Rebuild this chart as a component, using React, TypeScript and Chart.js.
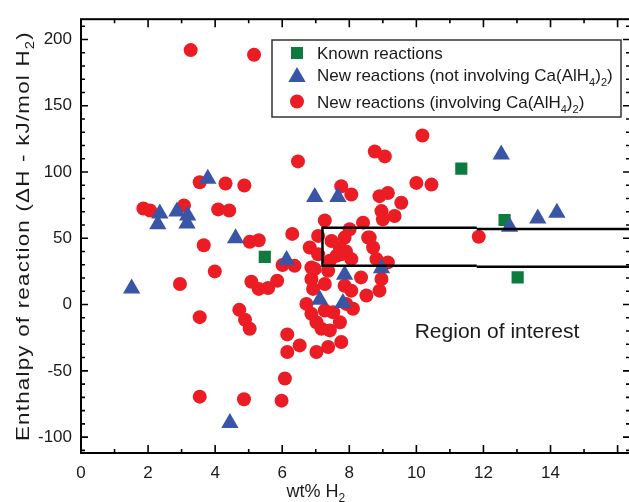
import React, { useEffect, useRef } from 'react';
import { Chart, registerables } from 'chart.js';

Chart.register(...registerables);

// ---------- data (wt% H2, enthalpy kJ/mol H2) ----------
const knownReactions: [number, number][] = [
  [5.48, 36], [11.34, 102.5], [12.63, 63.8], [13.02, 20.5],
];

const newNotInvolvingCa: [number, number][] = [
  [1.51, 12.2], [4.44, -89.3], [2.35, 68.7], [2.86, 70.2], [3.18, 67.2],
  [2.29, 60.5], [3.16, 61.2], [3.78, 95.0], [4.61, 50.0], [6.13, 33.7],
  [6.97, 81.2], [7.66, 81.2], [7.86, 22.4], [7.12, 3.7], [7.81, 1.2],
  [8.96, 27.4], [12.53, 113.2], [12.78, 58.7], [13.62, 65.0], [14.19, 69.2],
];

const newInvolvingCa: [number, number][] = [
  [3.27, 192], [5.16, 188.5], [3.54, 92.3], [4.31, 91.3], [4.87, 89.8],
  [1.86, 72.5], [2.06, 71], [3.07, 74.8], [4.09, 71.8], [4.42, 71],
  [3.66, 44.8], [5.03, 47.3], [5.3, 48.5], [6.3, 53.3], [6.01, 29.8],
  [3.99, 25], [2.95, 15.5], [5.08, 17.2], [5.3, 11.8], [5.58, 12.5],
  [5.85, 18], [4.72, -4], [4.89, -11.5], [5.03, -18.2], [3.54, -9.5],
  [6.15, -22.5], [6.15, -35.8], [6.08, -55.8], [3.54, -69.5], [4.86, -71.5],
  [5.98, -72.5], [6.47, 108], [8.76, 115.5], [9.06, 111.8], [10.18, 127.5],
  [10.0, 91.8], [10.45, 90.5], [7.76, 89.3], [8.06, 83], [8.9, 81.8],
  [9.15, 84.2], [9.55, 76.8], [8.96, 70.5], [9.35, 66.8], [9.0, 64.3],
  [8.41, 61.8], [8.01, 56.8], [8.56, 50.5], [7.86, 50.5], [8.71, 43],
  [7.27, 63.5], [7.07, 51.8], [6.82, 43], [7.47, 48], [7.72, 43],
  [8.06, 34.3], [8.81, 34.3], [9.15, 31.8], [7.42, 33], [6.87, 28],
  [6.37, 29.2], [11.86, 51.2], [6.97, 26.8], [6.87, 19.3], [7.37, 25.5],
  [7.27, 15.5], [6.92, 11.8], [7.86, 14.2], [8.06, 10.5], [8.35, 20.5],
  [6.72, 0.5], [6.87, -7], [7.02, -13.3], [7.27, -4.5], [7.52, -5.8],
  [7.91, 0.5], [8.11, -3.2], [7.72, -13.3], [7.17, -18.2], [7.42, -19.5],
  [7.76, -28.3], [7.37, -32], [7.02, -35.8], [6.52, -30.8], [8.51, 6.8],
  [8.9, 10.5], [8.96, 19.3], [7.62, 36.8], [7.9, 40], [8.61, 50.5],
  [7.07, 38], [7.76, 38],
];

const xTickValues = [0, 2, 4, 6, 8, 10, 12, 14];
const yTickValues = [-100, -50, 0, 50, 100, 150, 200];

// region of interest (x from, step x, y bounds left part, y bounds right part)
const roiXStart = 7.2;
const roiXStep = 11.8;
const roiLeftY: [number, number] = [29.3, 58];
const roiRightY: [number, number] = [28.5, 57];

const GREEN = '#0d7a3e';
const BLUE = '#3a55a5';
const RED = '#ec1c24';
const FONT = '"Liberation Sans", Arial, sans-serif';
const TEXT = '#1a1a1a';

type Seg = { t: string; sub?: boolean };

function segWidth(ctx: CanvasRenderingContext2D, segs: Seg[], size: number) {
  let w = 0;
  for (const s of segs) {
    ctx.font = `${s.sub ? Math.round(size * 0.65) : size}px ${FONT}`;
    w += ctx.measureText(s.t).width;
  }
  return w;
}

function drawSegs(ctx: CanvasRenderingContext2D, segs: Seg[], x: number, y: number, size: number) {
  let cx = x;
  ctx.textAlign = 'left';
  ctx.textBaseline = 'alphabetic';
  for (const s of segs) {
    const fs = s.sub ? Math.round(size * 0.65) : size;
    ctx.font = `${fs}px ${FONT}`;
    ctx.fillText(s.t, cx, s.sub ? y + size * 0.3 : y);
    cx += ctx.measureText(s.t).width;
  }
}

const yTitle: Seg[] = [{ t: 'Enthalpy of reaction (\u0394H - kJ/mol H' }, { t: '2', sub: true }, { t: ')' }];
const xTitle: Seg[] = [{ t: 'wt% H' }, { t: '2', sub: true }];
const legendItems: { style: string; color: string; segs: Seg[] }[] = [
  { style: 'rect', color: GREEN, segs: [{ t: 'Known reactions' }] },
  { style: 'triangle', color: BLUE, segs: [{ t: 'New reactions (not involving Ca(AlH' }, { t: '4', sub: true }, { t: ')' }, { t: '2', sub: true }, { t: ')' }] },
  { style: 'circle', color: RED, segs: [{ t: 'New reactions (involving Ca(AlH' }, { t: '4', sub: true }, { t: ')' }, { t: '2', sub: true }, { t: ')' }] },
];

function drawMarker(ctx: CanvasRenderingContext2D, style: string, color: string, x: number, y: number) {
  ctx.fillStyle = color;
  ctx.beginPath();
  if (style === 'rect') {
    ctx.rect(x - 6, y - 6, 12, 12);
  } else if (style === 'triangle') {
    const r = 10;
    for (let i = 0; i < 3; i++) {
      const a = (i * 2 * Math.PI) / 3;
      const px = x + Math.sin(a) * r;
      const py = y + 2 - Math.cos(a) * r;
      if (i === 0) ctx.moveTo(px, py); else ctx.lineTo(px, py);
    }
    ctx.closePath();
  } else {
    ctx.arc(x, y, 7, 0, Math.PI * 2);
  }
  ctx.fill();
}

const decorPlugin = {
  id: 'decor',
  afterDatasetsDraw(chart: any) {
    const ctx: CanvasRenderingContext2D = chart.ctx;
    const xs = chart.scales.x;
    const ys = chart.scales.y;
    const area = chart.chartArea;
    ctx.save();
    // region of interest
    ctx.strokeStyle = '#000';
    ctx.lineWidth = 2.5;
    const xl = xs.getPixelForValue(roiXStart);
    const xm = xs.getPixelForValue(roiXStep);
    const xr = area.right + 20;
    ctx.beginPath();
    ctx.moveTo(xm, ys.getPixelForValue(roiLeftY[1]));
    ctx.lineTo(xl, ys.getPixelForValue(roiLeftY[1]));
    ctx.lineTo(xl, ys.getPixelForValue(roiLeftY[0]));
    ctx.lineTo(xm, ys.getPixelForValue(roiLeftY[0]));
    ctx.moveTo(xm, ys.getPixelForValue(roiRightY[1]));
    ctx.lineTo(xr, ys.getPixelForValue(roiRightY[1]));
    ctx.moveTo(xm, ys.getPixelForValue(roiRightY[0]));
    ctx.lineTo(xr, ys.getPixelForValue(roiRightY[0]));
    ctx.stroke();
    ctx.fillStyle = TEXT;
    ctx.font = `21px ${FONT}`;
    ctx.textAlign = 'left';
    ctx.textBaseline = 'alphabetic';
    ctx.fillText('Region of interest', xs.getPixelForValue(9.95), ys.getPixelForValue(-25));
    ctx.restore();
  },
  afterDraw(chart: any) {
    const ctx: CanvasRenderingContext2D = chart.ctx;
    const xs = chart.scales.x;
    const ys = chart.scales.y;
    const { left, right, top, bottom } = chart.chartArea;
    ctx.save();
    // frame
    ctx.strokeStyle = '#000';
    ctx.lineWidth = 2;
    ctx.strokeRect(left, top, right - left, bottom - top);
    // inward ticks
    ctx.lineWidth = 1.6;
    ctx.beginPath();
    for (let v = 0; v <= 16; v += 1) {
      const px = xs.getPixelForValue(v);
      const len = v % 2 === 0 ? 8 : 4;
      ctx.moveTo(px, bottom); ctx.lineTo(px, bottom - len);
      ctx.moveTo(px, top); ctx.lineTo(px, top + len);
    }
    for (let v = -110; v <= 210; v += 10) {
      const py = ys.getPixelForValue(v);
      const len = v % 50 === 0 ? 7 : 4;
      ctx.moveTo(left, py); ctx.lineTo(left + len, py);
      ctx.moveTo(right, py); ctx.lineTo(right - len, py);
    }
    ctx.stroke();

    // axis titles
    ctx.fillStyle = TEXT;
    drawSegs(ctx, xTitle, 286.5, 497, 18);
    const ySize = 18;
    (ctx as any).letterSpacing = '1px';
    const w = segWidth(ctx, yTitle, ySize);
    const target = 410;
    ctx.save();
    ctx.translate(29, 236);
    ctx.rotate(-Math.PI / 2);
    ctx.scale(target / w, 1);
    drawSegs(ctx, yTitle, -w / 2, 0, ySize);
    ctx.restore();
    (ctx as any).letterSpacing = '0px';

    // legend
    const lx = 272, ly = 40, lw = 349, lh = 77;
    ctx.fillStyle = '#fff';
    ctx.fillRect(lx, ly, lw, lh);
    ctx.strokeStyle = '#333';
    ctx.lineWidth = 1.5;
    ctx.strokeRect(lx, ly, lw, lh);
    const rows = [53, 75, 101.5];
    legendItems.forEach((it, i) => {
      drawMarker(ctx, it.style, it.color, 297, rows[i]);
      ctx.fillStyle = TEXT;
      drawSegs(ctx, it.segs, 317, rows[i] + 6, 17);
    });
    ctx.restore();
  },
};

export default function App() {
  const ref = useRef<HTMLCanvasElement | null>(null);
  useEffect(() => {
    document.body.style.margin = '0';
    const canvas = ref.current!;
    const toPts = (a: [number, number][]) => a.map(([x, y]) => ({ x, y }));
    const chart = new Chart(canvas, {
      type: 'scatter',
      data: {
        datasets: [
          {
            label: 'New reactions (not involving Ca(AlH4)2)',
            data: toPts(newNotInvolvingCa),
            pointStyle: 'triangle',
            pointRadius: 10,
            backgroundColor: BLUE,
            borderColor: BLUE,
            borderWidth: 0,
          },
          {
            label: 'Known reactions',
            data: toPts(knownReactions),
            pointStyle: 'rect',
            pointRadius: 8.6,
            backgroundColor: GREEN,
            borderColor: GREEN,
            borderWidth: 0,
          },
          {
            label: 'New reactions (involving Ca(AlH4)2)',
            data: toPts(newInvolvingCa),
            pointStyle: 'circle',
            pointRadius: 7,
            backgroundColor: RED,
            borderColor: RED,
            borderWidth: 0,
          },
        ],
      },
      options: {
        animation: false,
        responsive: false,
        events: [],
        layout: { padding: { top: 17, right: 9, left: 0, bottom: 0 } },
        plugins: { legend: { display: false }, tooltip: { enabled: false }, title: { display: false } },
        scales: {
          x: {
            type: 'linear',
            min: 0,
            max: 16.37,
            afterBuildTicks: (s: any) => { s.ticks = xTickValues.map((v) => ({ value: v })); },
            afterFit: (s: any) => { s.height = 49; },
            grid: { display: false, drawTicks: false },
            border: { display: false },
            ticks: { padding: 10, color: TEXT, font: { family: FONT, size: 17 }, maxRotation: 0, autoSkip: false },
          },
          y: {
            type: 'linear',
            min: -112,
            max: 215.3,
            afterBuildTicks: (s: any) => { s.ticks = yTickValues.map((v) => ({ value: v })); },
            afterFit: (s: any) => { s.width = 81; },
            grid: { display: false, drawTicks: false },
            border: { display: false },
            ticks: { padding: 9, color: TEXT, font: { family: FONT, size: 17 }, autoSkip: false },
          },
        },
      },
      plugins: [decorPlugin],
    } as any);
    return () => chart.destroy();
  }, []);
  return (
    <div style={{ position: 'absolute', left: 0, top: 0, width: 629, height: 502, overflow: 'hidden', background: '#fff' }}>
      <canvas ref={ref} width={640} height={502} style={{ display: 'block' }} />
    </div>
  );
}
